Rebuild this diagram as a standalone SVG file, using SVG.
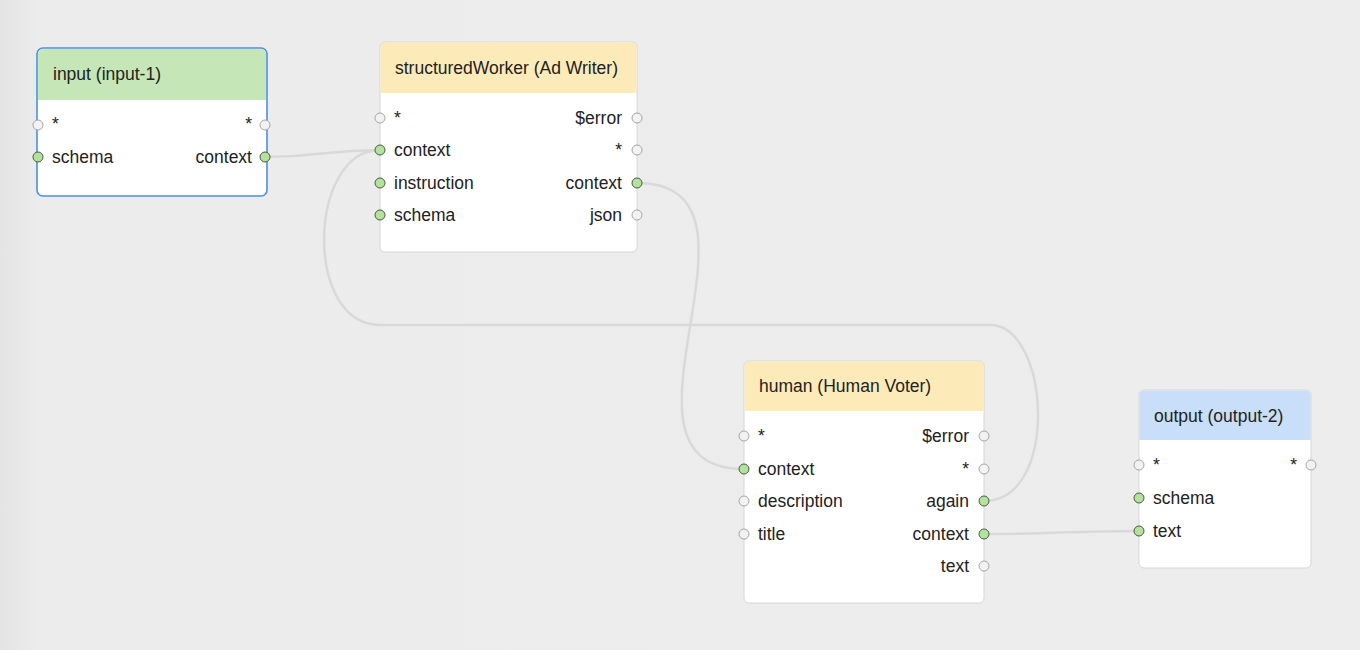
<svg xmlns="http://www.w3.org/2000/svg" width="1360" height="650" viewBox="0 0 1360 650">
<defs>
<linearGradient id="bg" x1="0" y1="0" x2="1" y2="0">
<stop offset="0" stop-color="#e4e4e4"/>
<stop offset="0.03" stop-color="#ececec"/>
<stop offset="1" stop-color="#ededed"/>
</linearGradient>
</defs>
<style>
text{font-family:"Liberation Sans",Arial,sans-serif;font-size:17.5px;fill:#222}
.r{text-anchor:end}
.body{fill:#fff;stroke:#d6d6d6;stroke-width:1}
.sel{fill:#fff;stroke:#4a8fe6;stroke-width:1.6}
.pg{fill:#b2e29b;stroke:#4d5a48;stroke-width:1}
.po{fill:#f2f2f2;stroke:#a6a6a6;stroke-width:1}
.wire{fill:none;stroke:#d9d9d9;stroke-width:2.5}
</style>
<rect x="0" y="0" width="1360" height="650" fill="url(#bg)"/>
<g id="connectors">
<path class="wire" d="M265,157 C322,157 322,150 380,150"/>
<path class="wire" d="M637,183 C790,183 590,469 744,469"/>
<path class="wire" d="M984,501 C1060,501 1050,325 990,325 L380,325 C303,325 308,150 380,150"/>
<path class="wire" d="M984,534 C1060,534 1060,531 1139,531"/>
</g>
<g id="input-1">
<rect class="sel" x="37" y="48" width="230" height="148" rx="6"/>
<path d="M38,100 V54.5 a5.5,5.5 0 0 1 5.5,-5.5 H260.5 a5.5,5.5 0 0 1 5.5,5.5 V100 Z" fill="#c5e6b7"/>
<text x="53" y="80">input (input-1)</text>
<text x="52" y="130">*</text>
<text x="52" y="163">schema</text>
<text class="r" x="252" y="130">*</text>
<text class="r" x="252" y="163">context</text>
<circle class="po" cx="38" cy="125" r="5"/>
<circle class="pg" cx="38" cy="157" r="5"/>
<circle class="po" cx="265" cy="125" r="5"/>
<circle class="pg" cx="265" cy="157" r="5"/>
</g>
<g id="structuredWorker">
<rect class="body" x="380" y="42" width="257" height="210" rx="5"/>
<path d="M380.5,93 V47 a4.5,4.5 0 0 1 4.5,-4.5 H632 a4.5,4.5 0 0 1 4.5,4.5 V93 Z" fill="#fcebb9"/>
<text x="395" y="74">structuredWorker (Ad Writer)</text>
<text x="394" y="124">*</text>
<text x="394" y="156">context</text>
<text x="394" y="189">instruction</text>
<text x="394" y="221">schema</text>
<text class="r" x="622" y="124">$error</text>
<text class="r" x="622" y="156">*</text>
<text class="r" x="622" y="189">context</text>
<text class="r" x="622" y="221">json</text>
<circle class="po" cx="380" cy="118" r="5"/>
<circle class="pg" cx="380" cy="150" r="5"/>
<circle class="pg" cx="380" cy="183" r="5"/>
<circle class="pg" cx="380" cy="215" r="5"/>
<circle class="po" cx="637" cy="118" r="5"/>
<circle class="po" cx="637" cy="150" r="5"/>
<circle class="pg" cx="637" cy="183" r="5"/>
<circle class="po" cx="637" cy="215" r="5"/>
</g>
<g id="human">
<rect class="body" x="744" y="361" width="240" height="242" rx="5"/>
<path d="M744.5,411 V366 a4.5,4.5 0 0 1 4.5,-4.5 H979 a4.5,4.5 0 0 1 4.5,4.5 V411 Z" fill="#fcebb9"/>
<text x="759" y="392">human (Human Voter)</text>
<text x="758" y="442">*</text>
<text x="758" y="475">context</text>
<text x="758" y="507">description</text>
<text x="758" y="540">title</text>
<text class="r" x="969" y="442">$error</text>
<text class="r" x="969" y="475">*</text>
<text class="r" x="969" y="507">again</text>
<text class="r" x="969" y="540">context</text>
<text class="r" x="969" y="572">text</text>
<circle class="po" cx="744" cy="436" r="5"/>
<circle class="pg" cx="744" cy="469" r="5"/>
<circle class="po" cx="744" cy="501" r="5"/>
<circle class="po" cx="744" cy="534" r="5"/>
<circle class="po" cx="984" cy="436" r="5"/>
<circle class="po" cx="984" cy="469" r="5"/>
<circle class="pg" cx="984" cy="501" r="5"/>
<circle class="pg" cx="984" cy="534" r="5"/>
<circle class="po" cx="984" cy="566" r="5"/>
</g>
<g id="output-2">
<rect class="body" x="1139" y="390" width="172" height="178" rx="5"/>
<path d="M1139.5,440 V395 a4.5,4.5 0 0 1 4.5,-4.5 H1306 a4.5,4.5 0 0 1 4.5,4.5 V440 Z" fill="#c9def8"/>
<text x="1154" y="422">output (output-2)</text>
<text x="1153" y="471">*</text>
<text x="1153" y="504">schema</text>
<text x="1153" y="537">text</text>
<text class="r" x="1297" y="471">*</text>
<circle class="po" cx="1139" cy="465" r="5"/>
<circle class="pg" cx="1139" cy="498" r="5"/>
<circle class="pg" cx="1139" cy="531" r="5"/>
<circle class="po" cx="1311" cy="465" r="5"/>
</g>
</svg>
